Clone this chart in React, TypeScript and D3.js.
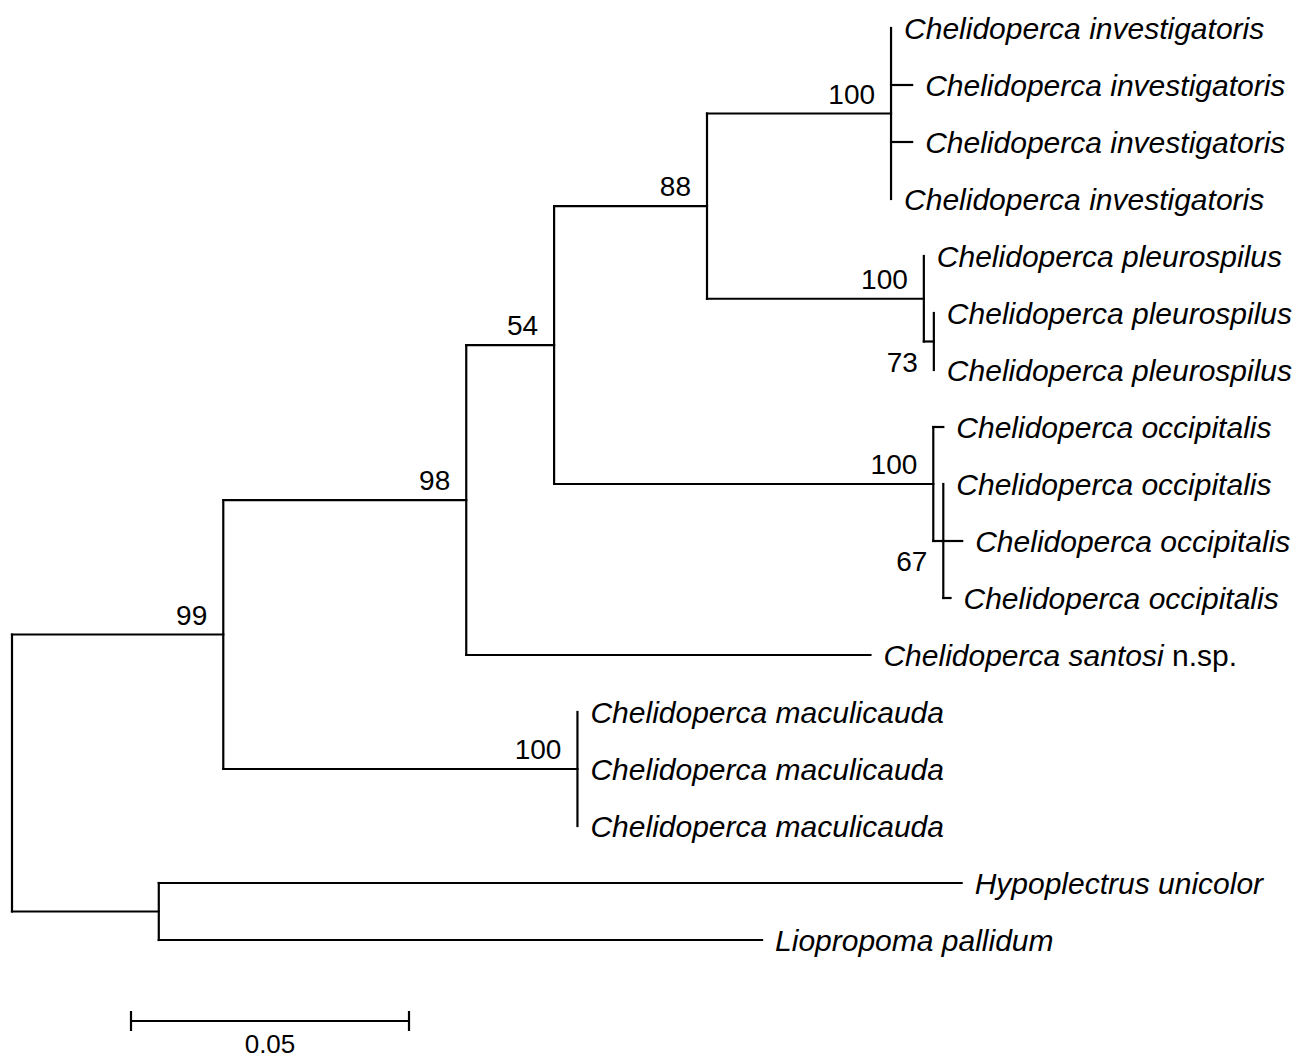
import React from 'react';
import * as d3 from 'd3';

// tree edges: [id, parent, branch length]
const edges: [string, string, number][] = [
    ['root', '', 0],
    ['n99', 'root', 0.038],
    ['nOut', 'root', 0.0264],
    ['n98', 'n99', 0.0437],
    ['nMac', 'n99', 0.0637],
    ['n54', 'n98', 0.0158],
    ['santosi', 'n98', 0.0727],
    ['n88', 'n54', 0.0275],
    ['nOcc', 'n54', 0.0682],
    ['nInv', 'n88', 0.0331],
    ['nPl', 'n88', 0.039],
    ['inv1', 'nInv', 0],
    ['inv2', 'nInv', 0.0038],
    ['inv3', 'nInv', 0.0038],
    ['inv4', 'nInv', 0],
    ['pl1', 'nPl', 0],
    ['nPl2', 'nPl', 0.0018],
    ['pl2', 'nPl2', 0],
    ['pl3', 'nPl2', 0],
    ['occ1', 'nOcc', 0.0018],
    ['nOcc2', 'nOcc', 0.0018],
    ['occ2', 'nOcc2', 0],
    ['occ3', 'nOcc2', 0.0034],
    ['occ4', 'nOcc2', 0.0013],
    ['mac1', 'nMac', 0],
    ['mac2', 'nMac', 0],
    ['mac3', 'nMac', 0],
    ['hyp', 'nOut', 0.1444],
    ['lio', 'nOut', 0.1085],
];

const taxa: Record<string, string> = {
    inv1: 'Chelidoperca investigatoris',
    inv2: 'Chelidoperca investigatoris',
    inv3: 'Chelidoperca investigatoris',
    inv4: 'Chelidoperca investigatoris',
    pl1: 'Chelidoperca pleurospilus',
    pl2: 'Chelidoperca pleurospilus',
    pl3: 'Chelidoperca pleurospilus',
    occ1: 'Chelidoperca occipitalis',
    occ2: 'Chelidoperca occipitalis',
    occ3: 'Chelidoperca occipitalis',
    occ4: 'Chelidoperca occipitalis',
    santosi: 'Chelidoperca santosi',
    mac1: 'Chelidoperca maculicauda',
    mac2: 'Chelidoperca maculicauda',
    mac3: 'Chelidoperca maculicauda',
    hyp: 'Hypoplectrus unicolor',
    lio: 'Liopropoma pallidum',
};
const suffixes: Record<string, string> = { santosi: 'n.sp.' };

const bootstrap: [string, number][] = [
    ['n99', 99], ['n98', 98], ['n54', 54], ['n88', 88], ['nInv', 100],
    ['nPl', 100], ['nPl2', 73], ['nOcc', 100], ['nOcc2', 67], ['nMac', 100],
];
const labelBelow = ['nPl2', 'nOcc2'];

const scaleBarValue = 0.05;

const width = 1300;
const height = 1058;
const font = '"Liberation Sans", Arial, sans-serif';

type Row = { id: string; parent: string; len: number };

const App: React.FC = () => {
    const rows: Row[] = edges.map(([id, parent, len]) => ({ id, parent, len }));
    const root = d3.stratify<Row>()
        .id(d => d.id)
        .parentId(d => (d.parent === '' ? null : d.parent))(rows);

    const x = d3.scaleLinear().domain([0, scaleBarValue]).range([12, 290]);
    const leaves = root.leaves();
    const y = d3.scalePoint<string>().domain(leaves.map(d => d.id as string)).range([28, 940]);

    const pos = new Map<string, { x: number; y: number }>();
    const dist = new Map<string, number>();
    root.eachBefore(n => {
        const pd = n.parent ? dist.get(n.parent.id as string)! : 0;
        dist.set(n.id as string, pd + n.data.len);
    });
    root.eachAfter(n => {
        const id = n.id as string;
        const py = n.children
            ? (pos.get(n.children[0].id as string)!.y + pos.get(n.children[n.children.length - 1].id as string)!.y) / 2
            : (y(id) as number);
        pos.set(id, { x: x(dist.get(id)!), y: py });
    });

    const lines: { x1: number; y1: number; x2: number; y2: number }[] = [];
    root.each(n => {
        const p = pos.get(n.id as string)!;
        if (n.parent) {
            const pp = pos.get(n.parent.id as string)!;
            if (p.x - pp.x > 0.5) lines.push({ x1: pp.x, y1: p.y, x2: p.x, y2: p.y });
        }
        if (n.children) {
            const a = pos.get(n.children[0].id as string)!;
            const b = pos.get(n.children[n.children.length - 1].id as string)!;
            lines.push({ x1: p.x, y1: a.y, x2: p.x, y2: b.y });
        }
    });

    const barX0 = 131;
    const barLen = x(scaleBarValue) - x(0);
    const barY = 1021;

    return (
        <svg width={width} height={height} style={{ position: 'absolute', left: 0, top: 0, background: '#fff' }}
            fontFamily={font}>
            <g stroke="#000" strokeWidth={2.2} strokeLinecap="square">
                {lines.map((l, i) => <line key={i} {...l} />)}
            </g>
            <g fontSize={30} fontStyle="italic">
                {leaves.map(l => {
                    const p = pos.get(l.id as string)!;
                    const suf = suffixes[l.id as string];
                    return (
                        <text key={l.id} x={p.x + 13} y={p.y + 10.5}>
                            {taxa[l.id as string]}
                            {suf && <tspan fontStyle="normal">{' ' + suf}</tspan>}
                        </text>
                    );
                })}
            </g>
            <g fontSize={28} textAnchor="end">
                {bootstrap.map(([id, v]) => {
                    const p = pos.get(id)!;
                    const below = labelBelow.includes(id);
                    return (
                        <text key={id} x={p.x - 16} y={below ? p.y + 30 : p.y - 10}>{v}</text>
                    );
                })}
            </g>
            <g stroke="#000" strokeWidth={2.2}>
                <line x1={barX0} x2={barX0 + barLen} y1={barY} y2={barY} />
                <line x1={barX0} x2={barX0} y1={barY - 10} y2={barY + 10} />
                <line x1={barX0 + barLen} x2={barX0 + barLen} y1={barY - 10} y2={barY + 10} />
            </g>
            <text x={barX0 + barLen / 2} y={1053} fontSize={26} textAnchor="middle">{scaleBarValue}</text>
        </svg>
    );
};

export default App;
